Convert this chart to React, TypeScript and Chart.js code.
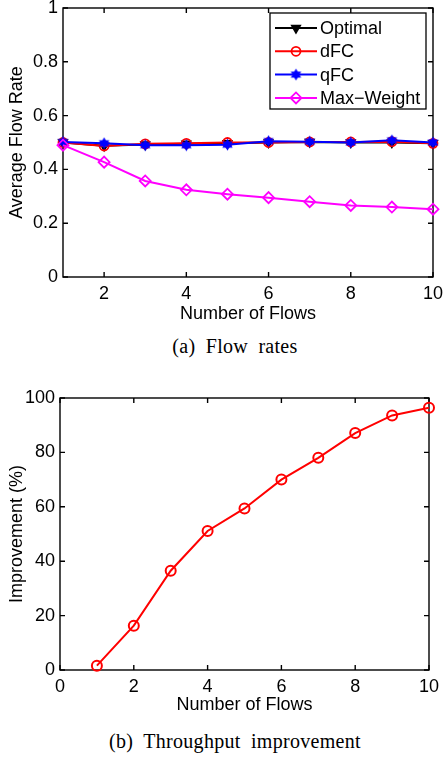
import React, { useEffect, useRef } from "react";
import { Chart, registerables } from "chart.js";
import { drawPoint } from "chart.js/helpers";

Chart.register(...registerables);

// ---------- data ----------
const flowCounts = [1, 2, 3, 4, 5, 6, 7, 8, 9, 10];
const optimalRates = [0.5, 0.488, 0.493, 0.495, 0.497, 0.5, 0.502, 0.5, 0.5, 0.497];
const dfcRates = [0.5, 0.487, 0.495, 0.497, 0.5, 0.5, 0.502, 0.502, 0.503, 0.497];
const qfcRates = [0.502, 0.497, 0.49, 0.49, 0.492, 0.505, 0.503, 0.5, 0.508, 0.5];
const maxWeightRates = [0.49, 0.427, 0.357, 0.324, 0.308, 0.295, 0.28, 0.266, 0.26, 0.252];
const improvementPct = [1.6, 16.3, 36.5, 51.1, 59.4, 70.0, 78.0, 87.1, 93.6, 96.4];

const rateTicks = [0, 0.2, 0.4, 0.6, 0.8, 1];
const flowTicksA = [2, 4, 6, 8, 10];
const flowTicksB = [0, 2, 4, 6, 8, 10];
const improvementTicks = [0, 20, 40, 60, 80, 100];
const seriesLabels = ["Optimal", "dFC", "qFC", "Max\u2212Weight"];

const SANS = "'Liberation Sans', Arial, sans-serif";
const FONT = { family: SANS, size: 18 };

function makeHexagram(size: number, color: string) {
  const c = document.createElement("canvas");
  c.width = size;
  c.height = size;
  const ctx = c.getContext("2d")!;
  const cx = size / 2;
  const cy = size / 2;
  const r = size / 2 - 0.5;
  ctx.fillStyle = color;
  for (let k = 0; k < 2; k++) {
    ctx.beginPath();
    for (let i = 0; i < 3; i++) {
      const a = -Math.PI / 2 + k * Math.PI + (i * 2 * Math.PI) / 3;
      const x = cx + r * Math.cos(a);
      const y = cy + r * Math.sin(a);
      if (i === 0) ctx.moveTo(x, y);
      else ctx.lineTo(x, y);
    }
    ctx.closePath();
    ctx.fill();
  }
  return c;
}

const framePlugin = {
  id: "matlabFrame",
  beforeDatasetsDraw(chart: any) {
    const { ctx, chartArea: a, scales } = chart;
    ctx.save();
    ctx.strokeStyle = "#000";
    ctx.lineWidth = 1.4;
    ctx.strokeRect(a.left, a.top, a.right - a.left, a.bottom - a.top);
    const L = 5;
    ctx.beginPath();
    for (const t of scales.x.ticks) {
      const px = scales.x.getPixelForValue(t.value);
      ctx.moveTo(px, a.bottom);
      ctx.lineTo(px, a.bottom - L);
      ctx.moveTo(px, a.top);
      ctx.lineTo(px, a.top + L);
    }
    for (const t of scales.y.ticks) {
      const py = scales.y.getPixelForValue(t.value);
      ctx.moveTo(a.left, py);
      ctx.lineTo(a.left + L, py);
      ctx.moveTo(a.right, py);
      ctx.lineTo(a.right - L, py);
    }
    ctx.stroke();
    ctx.restore();
  },
};

const boxLegendPlugin = {
  id: "boxLegend",
  afterDatasetsDraw(chart: any) {
    const { ctx, chartArea: a } = chart;
    const left = a.right - 163;
    const top = a.top + 5;
    const w = 156;
    const rowH = 23.3;
    const h = 96;
    ctx.save();
    ctx.fillStyle = "#fff";
    ctx.fillRect(left, top, w, h);
    ctx.strokeStyle = "#000";
    ctx.lineWidth = 1.3;
    ctx.strokeRect(left, top, w, h);
    chart.data.datasets.forEach((ds: any, i: number) => {
      const y = top + 15 + i * rowH;
      const x0 = left + 5;
      const x1 = left + 47;
      ctx.strokeStyle = ds.borderColor;
      ctx.lineWidth = ds.borderWidth;
      ctx.beginPath();
      ctx.moveTo(x0, y);
      ctx.lineTo(x1, y);
      ctx.stroke();
      ctx.fillStyle = ds.pointBackgroundColor;
      ctx.strokeStyle = ds.borderColor;
      ctx.lineWidth = ds.pointBorderWidth;
      drawPoint(
        ctx,
        {
          pointStyle: ds.pointStyle,
          rotation: ds.pointRotation || 0,
          radius: ds.pointRadius,
          borderWidth: ds.pointBorderWidth,
        },
        (x0 + x1) / 2,
        y
      );
      ctx.fillStyle = "#000";
      ctx.font = `${FONT.size}px ${SANS}`;
      ctx.textBaseline = "middle";
      ctx.textAlign = "left";
      ctx.fillText(ds.label, left + 50, y + 1);
    });
    ctx.restore();
  },
};

function axisX(min: number, max: number, ticks: number[], height: number, titleBottom: number) {
  return {
    type: "linear",
    min,
    max,
    afterBuildTicks: (s: any) => {
      s.ticks = ticks.map((v) => ({ value: v }));
    },
    afterFit: (s: any) => {
      s.height = height;
      s.paddingLeft = 0;
      s.paddingRight = 0;
    },
    ticks: { color: "#000", font: FONT, padding: 6, maxRotation: 0, autoSkip: false, callback: (v: any) => String(v) },
    grid: { display: false, drawTicks: false },
    border: { display: false },
    title: { display: true, text: "Number of Flows", color: "#000", font: FONT, padding: { top: 0, bottom: titleBottom } },
  };
}

function axisY(min: number, max: number, ticks: number[], width: number, title: string) {
  return {
    type: "linear",
    min,
    max,
    afterBuildTicks: (s: any) => {
      s.ticks = ticks.map((v) => ({ value: v }));
    },
    afterFit: (s: any) => {
      s.width = width;
      s.paddingTop = 0;
      s.paddingBottom = 0;
    },
    ticks: { color: "#000", font: FONT, padding: 5, callback: (v: any) => String(v) },
    grid: { display: false, drawTicks: false },
    border: { display: false },
    title: { display: true, text: title, color: "#000", font: FONT, padding: { top: 6, bottom: 0 } },
  };
}

export default function App() {
  const ref1 = useRef<HTMLCanvasElement>(null);
  const ref2 = useRef<HTMLCanvasElement>(null);

  useEffect(() => {
    const hexagram = makeHexagram(13, "#0000ff");
    const pts = (ys: number[]) => flowCounts.map((x, i) => ({ x, y: ys[i] }));
    const c1 = new Chart(ref1.current!, {
      type: "line",
      data: {
        datasets: [
          {
            label: seriesLabels[0],
            data: pts(optimalRates),
            borderColor: "#000000",
            pointBackgroundColor: "#000000",
            pointStyle: "triangle",
            pointRotation: 180,
            pointRadius: 5,
            pointBorderWidth: 1.5,
            borderWidth: 2,
            order: 4,
            clip: false,
          },
          {
            label: seriesLabels[1],
            data: pts(dfcRates),
            borderColor: "#ff0000",
            pointBackgroundColor: "rgba(0,0,0,0)",
            pointStyle: "circle",
            pointRadius: 4.5,
            pointBorderWidth: 1.8,
            borderWidth: 2,
            order: 3,
            clip: false,
          },
          {
            label: seriesLabels[2],
            data: pts(qfcRates),
            borderColor: "#0000ff",
            pointBackgroundColor: "#0000ff",
            pointStyle: hexagram,
            pointRadius: 6,
            pointBorderWidth: 1,
            borderWidth: 2,
            order: 2,
            clip: false,
          },
          {
            label: seriesLabels[3],
            data: pts(maxWeightRates),
            borderColor: "#ff00ff",
            pointBackgroundColor: "rgba(0,0,0,0)",
            pointStyle: "rectRot",
            pointRadius: 5.5,
            pointBorderWidth: 1.8,
            borderWidth: 2,
            order: 1,
            clip: false,
          },
        ],
      } as any,
      options: {
        animation: false,
        responsive: false,
        devicePixelRatio: 1,
        layout: { padding: { left: 0, top: 8, right: 11, bottom: 0 } },
        plugins: { legend: { display: false }, tooltip: { enabled: false } },
        scales: {
          x: axisX(1, 10, flowTicksA, 53, 5),
          y: axisY(0, 1, rateTicks, 63, "Average Flow Rate"),
        } as any,
      },
      plugins: [framePlugin, boxLegendPlugin],
    });

    const c2 = new Chart(ref2.current!, {
      type: "line",
      data: {
        datasets: [
          {
            label: "Improvement",
            data: pts(improvementPct),
            borderColor: "#ff0000",
            pointBackgroundColor: "rgba(0,0,0,0)",
            pointStyle: "circle",
            pointRadius: 5,
            pointBorderWidth: 2,
            borderWidth: 2,
            clip: false,
          },
        ],
      } as any,
      options: {
        animation: false,
        responsive: false,
        devicePixelRatio: 1,
        layout: { padding: { left: 0, top: 18, right: 15, bottom: 0 } },
        plugins: { legend: { display: false }, tooltip: { enabled: false } },
        scales: {
          x: axisX(0, 10, flowTicksB, 50, 4),
          y: axisY(0, 100, improvementTicks, 60, "Improvement (%)"),
        } as any,
      },
      plugins: [framePlugin],
    });

    return () => {
      c1.destroy();
      c2.destroy();
    };
  }, []);

  const caption: React.CSSProperties = {
    position: "absolute",
    left: 235,
    transform: "translate(-50%, -50%)",
    whiteSpace: "nowrap",
    fontFamily: "'Liberation Serif', 'Times New Roman', serif",
    fontSize: 20,
    wordSpacing: 5,
    letterSpacing: 0.3,
    color: "#000",
    lineHeight: 1,
  };

  return (
    <div style={{ position: "fixed", left: 0, top: 0, width: 444, height: 758, background: "#fff", overflow: "hidden" }}>
      <canvas ref={ref1} width={444} height={330} style={{ position: "absolute", left: 0, top: 0 }} />
      <div style={{ ...caption, top: 346 }}>(a) Flow rates</div>
      <canvas ref={ref2} width={444} height={340} style={{ position: "absolute", left: 0, top: 380 }} />
      <div style={{ ...caption, top: 741 }}>(b) Throughput improvement</div>
    </div>
  );
}
